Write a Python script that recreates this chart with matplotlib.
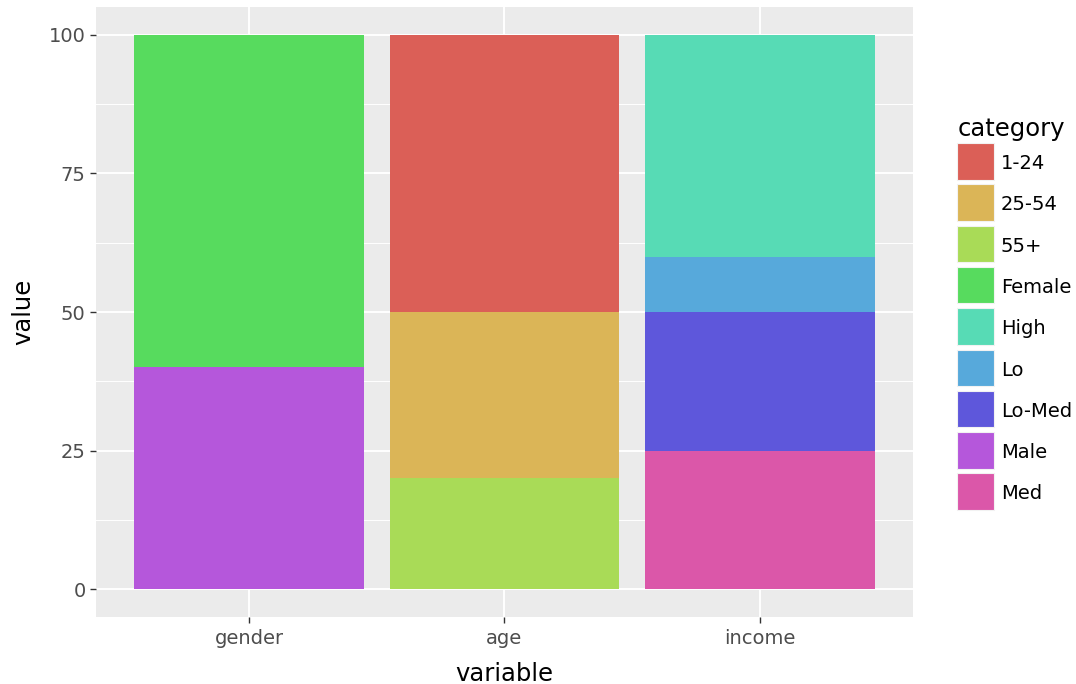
import matplotlib.pyplot as plt
from matplotlib.patches import Rectangle
from matplotlib.ticker import MultipleLocator

# data
variables = ['gender', 'age', 'income']
categories = ['1-24', '25-54', '55+', 'Female', 'High', 'Lo', 'Lo-Med', 'Male', 'Med']
cat_colors = ['#DB5F57', '#DBB557', '#A9DB57', '#57DB5E', '#57DBB5',
              '#57A9DB', '#5E57DB', '#B557DB', '#DB57A9']
gender_vals = {'Female': 60, 'Male': 40}
age_vals = {'1-24': 50, '25-54': 30, '55+': 20}
income_vals = {'High': 40, 'Lo': 10, 'Lo-Med': 25, 'Med': 25}
y_ticks = [0, 25, 50, 75, 100]

values = [gender_vals, age_vals, income_vals]

W, H = 1076, 684
fig = plt.figure(figsize=(W / 100, H / 100), dpi=100)
ax = fig.add_axes([96 / W, 1 - 617 / H, 817 / W, 610 / H])
ax.set_facecolor('#EBEBEB')

# ggplot stacks later levels at the bottom
for i, vals in enumerate(values):
    bottom = 0
    for cat, col in reversed(list(zip(categories, cat_colors))):
        if cat in vals:
            ax.bar(i, vals[cat], bottom=bottom, width=0.9, color=col, zorder=3)
            bottom += vals[cat]

ax.set_xlim(-0.6, 2.6)
ax.set_ylim(-5, 105)
ax.set_xticks(range(len(variables)))
ax.set_xticklabels(variables)
ax.set_yticks(y_ticks)
ax.yaxis.set_minor_locator(MultipleLocator(12.5))
ax.grid(which='major', color='white', linewidth=1.4, zorder=0)
ax.grid(which='minor', axis='y', color='white', linewidth=0.7, zorder=0)
ax.set_axisbelow(True)
for s in ax.spines.values():
    s.set_visible(False)
ax.tick_params(which='major', length=4, width=1, color='#333333',
               labelcolor='#4D4D4D', labelsize=14)
ax.tick_params(axis='x', pad=4.5)
ax.tick_params(which='minor', length=0)
ax.set_xlabel('variable', fontsize=17.5, labelpad=10)
ax.set_ylabel('value', fontsize=17.5, labelpad=10)

# legend drawn by hand, in pixel positions turned into figure fractions
fig.text(958 / W, 1 - 136 / H, 'category', fontsize=17.5,
         ha='left', va='baseline')
for k, (cat, col) in enumerate(zip(categories, cat_colors)):
    top = 143 + 41.3 * k
    fig.patches.append(Rectangle((957 / W, 1 - (top + 36.5) / H), 36.5 / W, 36.5 / H,
                                 transform=fig.transFigure, facecolor=col,
                                 edgecolor='#F2F2F2', linewidth=0.8))
    fig.text(1001 / W, 1 - (top + 18.5) / H, cat, fontsize=14,
             ha='left', va='center_baseline')

fig.savefig('out.png', dpi=100)
